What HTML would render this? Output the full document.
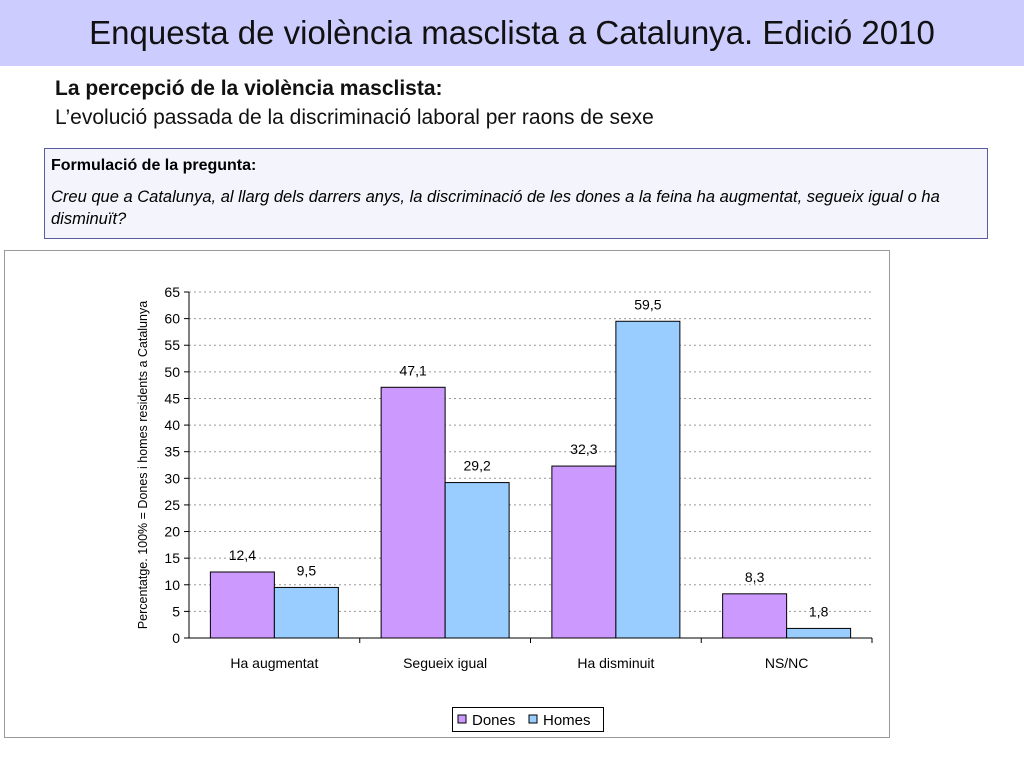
<!DOCTYPE html>
<html><head><meta charset="utf-8"><style>
body{margin:0;width:1024px;height:768px;background:#fff;font-family:"Liberation Sans",sans-serif;position:relative;overflow:hidden}
.a{position:absolute}
</style></head><body>
<div class="a" style="left:0;top:0;width:1024px;height:66px;background:#ccccff"></div>
<div class="a" style="left:0;top:14px;width:1024px;text-align:center;font-size:33px;color:#111">Enquesta de violència masclista a Catalunya. Edició 2010</div>
<div class="a" style="left:55px;top:77px;font-size:21px;font-weight:bold;color:#111">La percepció de la violència masclista:</div>
<div class="a" style="left:55px;top:106px;font-size:21px;color:#111">L’evolució passada de la discriminació laboral per raons de sexe</div>
<div class="a" style="left:44px;top:148px;width:942px;height:89px;background:#f4f4fd;border:1px solid #5a5aa0">
<div class="a" style="left:6px;top:8px;font-size:16px;font-weight:bold">Formulació de la pregunta:</div>
<div class="a" style="left:6px;top:37px;font-size:16.5px;font-style:italic;line-height:22px;width:915px">Creu que a Catalunya, al llarg dels darrers anys, la discriminació de les dones a la feina ha augmentat, segueix igual o ha disminuït?</div>
</div>
<svg class="a" style="left:0;top:0" width="1024" height="768">
<rect x="4.5" y="250.5" width="885" height="487" fill="#fff" stroke="#999"/>
<g id="g"></g>
</svg>
<script>
const categories=["Ha augmentat","Segueix igual","Ha disminuit","NS/NC"];
const dones=[12.4,47.1,32.3,8.3];
const homes=[9.5,29.2,59.5,1.8];
const ticks=[0,5,10,15,20,25,30,35,40,45,50,55,60,65];
const NS="http://www.w3.org/2000/svg";
const g=document.getElementById('g');
const X0=189,X1=872,Y0=638,Y1=292,YMAX=65;
const y=v=>Y0-(Y0-Y1)*v/YMAX;
const cw=(X1-X0)/categories.length;
function el(t,a,txt){const e=document.createElementNS(NS,t);for(const k in a)e.setAttribute(k,a[k]);if(txt!=null)e.textContent=txt;g.appendChild(e);return e;}
ticks.forEach(t=>{
 if(t>0){const l=el('line',{x1:X0,x2:X1,y1:y(t),y2:y(t),stroke:'#999','stroke-dasharray':'2,3'});
 
 }
 const tk=el('line',{x1:X0-5,x2:X0,y1:y(t),y2:y(t),stroke:'#000'});
 
 
 const tx=el('text',{x:X0-9,y:y(t)+5,'text-anchor':'end','font-size':14},t);
 
 
});
const bw=64;
categories.forEach((c,i)=>{
 const gx=X0+i*cw+(cw-2*bw)/2;
 [[dones,'#cc99ff','dones'],[homes,'#99ccff','homes']].forEach(([arr,col,n],j)=>{
  const v=arr[i],bx=gx+j*bw;
  const r=el('rect',{x:bx,y:y(v),width:bw,height:Y0-y(v),fill:col,stroke:'#000','stroke-width':1});
  
  
  const t=el('text',{x:bx+bw/2,y:y(v)-12,'text-anchor':'middle','font-size':14},String(v).replace('.',','));
  
  
 });
 const tl=el('text',{x:X0+i*cw+cw/2,y:668,'text-anchor':'middle','font-size':14},c);
 
 
 const xt=el('line',{x1:X0+(i+1)*cw,x2:X0+(i+1)*cw,y1:Y0,y2:Y0+5,stroke:'#000'});
 
 
});
const ya=el('line',{x1:X0,x2:X0,y1:Y1,y2:Y0,stroke:'#000'});


const xa=el('line',{x1:X0,x2:X1,y1:Y0,y2:Y0,stroke:'#000'});


const yt=el('text',{x:0,y:0,transform:'translate(147,465) rotate(-90)','text-anchor':'middle','font-size':12.5},'Percentatge. 100% = Dones i homes residents a Catalunya');


const lg=el('rect',{x:452.5,y:707.5,width:151,height:24,fill:'#fff',stroke:'#000'});


[['Dones','#cc99ff',458],['Homes','#99ccff',529]].forEach(([n,c,x])=>{
 const s=el('rect',{x:x,y:715,width:8,height:8,fill:c,stroke:'#000'});
 
 
 const t=el('text',{x:x+14,y:725,'font-size':15},n);
 
 
});
</script>
</body></html>
